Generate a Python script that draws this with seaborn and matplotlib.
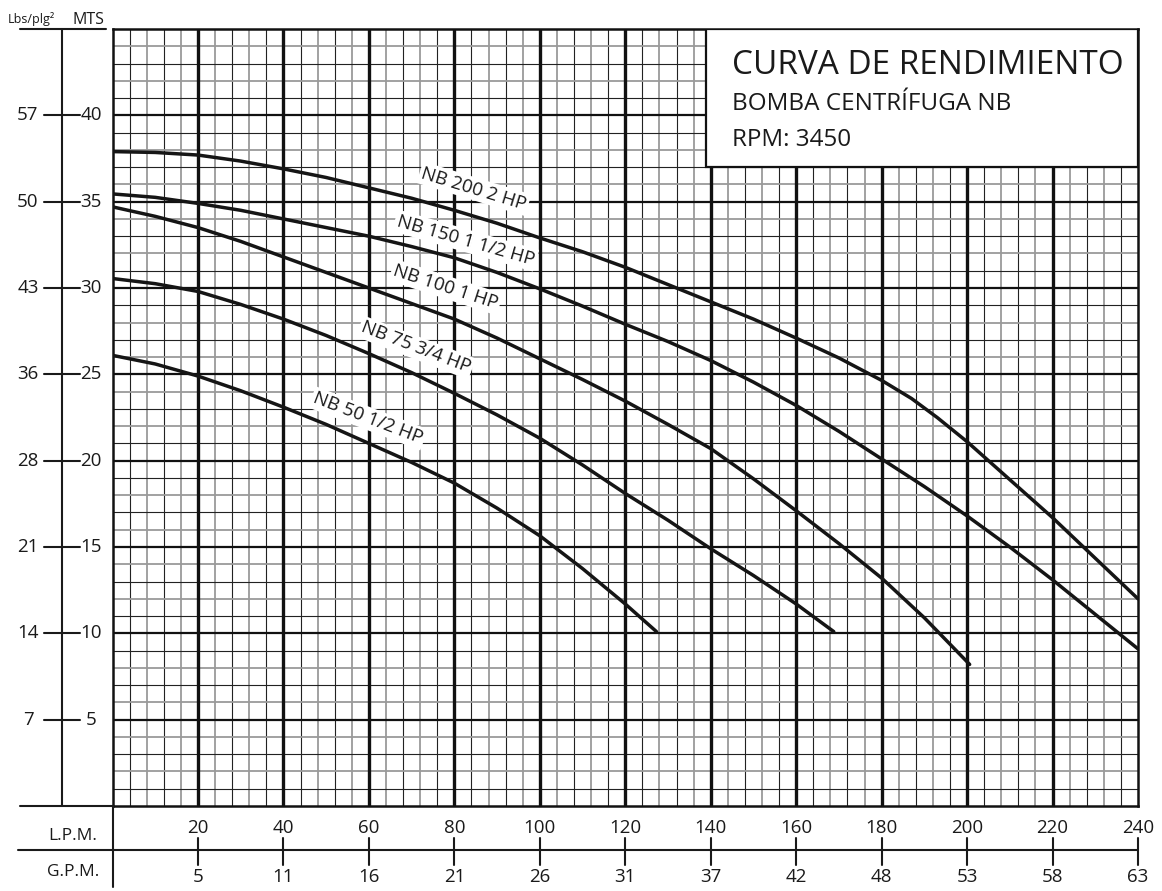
import pandas as pd
import seaborn as sns
import matplotlib.pyplot as plt
from matplotlib.lines import Line2D
from matplotlib.patches import Rectangle

# curves: flow (L.P.M.) vs head (MTS)
nb200_lpm = [0, 10, 20, 30, 40, 50, 60, 70, 80, 90, 100, 110, 120, 130, 140, 150, 160, 170, 180, 187, 193, 200, 210, 220, 230, 240]
nb200_mts = [37.9, 37.85, 37.7, 37.35, 36.9, 36.4, 35.8, 35.2, 34.5, 33.75, 32.9, 32.1, 31.2, 30.2, 29.2, 28.2,
             27.1, 25.95, 24.65, 23.6, 22.5, 21.1, 18.9, 16.7, 14.35, 12.0]
nb150_lpm = [0, 10, 20, 30, 40, 50, 60, 70, 80, 90, 100, 110, 120, 130, 140, 150, 160, 170, 180, 190, 200, 210, 220, 230, 240]
nb150_mts = [35.45, 35.25, 34.9, 34.5, 34.0, 33.5, 33.0, 32.4, 31.75, 30.9, 29.95, 28.95, 27.9, 26.9, 25.8, 24.55,
             23.2, 21.7, 20.1, 18.5, 16.8, 15.0, 13.1, 11.1, 9.1]
nb100_lpm = [0, 10, 20, 30, 40, 50, 60, 70, 80, 90, 100, 110, 120, 130, 140, 150, 160, 170, 180, 190, 200.6]
nb100_mts = [34.7, 34.15, 33.5, 32.7, 31.8, 30.9, 30.0, 29.1, 28.2, 27.1, 25.9, 24.7, 23.45, 22.1, 20.7, 18.95,
             17.1, 15.2, 13.2, 10.9, 8.2]
nb75_lpm = [0, 10, 20, 30, 40, 50, 60, 70, 80, 90, 100, 110, 120, 130, 140, 150, 160, 168.8]
nb75_mts = [30.55, 30.25, 29.8, 29.05, 28.2, 27.25, 26.2, 25.1, 23.9, 22.65, 21.3, 19.75, 18.1, 16.55, 14.9, 13.35, 11.7, 10.1]
nb50_lpm = [0, 10, 20, 30, 40, 50, 60, 70, 80, 90, 100, 110, 120, 127.3]
nb50_mts = [26.1, 25.6, 24.9, 24.05, 23.1, 22.1, 21.0, 19.9, 18.7, 17.25, 15.65, 13.75, 11.7, 10.1]

curve_names = ['NB 200 2 HP', 'NB 150 1 1/2 HP', 'NB 100 1 HP', 'NB 75 3/4 HP', 'NB 50 1/2 HP']
# label placement (lpm, mts, angle)
label_pos = [(84.6, 35.75, -17), (82.6, 32.75, -16), (78.0, 30.05, -18), (71.0, 26.55, -21), (59.8, 22.45, -21)]

lpm_ticks = [20, 40, 60, 80, 100, 120, 140, 160, 180, 200, 220, 240]
gpm_ticks = [5, 11, 16, 21, 26, 31, 37, 42, 48, 53, 58, 63]
mts_ticks = [5, 10, 15, 20, 25, 30, 35, 40]
psi_ticks = [7, 14, 21, 28, 36, 43, 50, 57]

frames = []
for name, xs, ys in zip(curve_names,
                        [nb200_lpm, nb150_lpm, nb100_lpm, nb75_lpm, nb50_lpm],
                        [nb200_mts, nb150_mts, nb100_mts, nb75_mts, nb50_mts]):
    frames.append(pd.DataFrame({'lpm': xs, 'mts': ys, 'bomba': name}))
data = pd.concat(frames)

sns.set_theme(style='white')
plt.rcParams['font.family'] = ['Open Sans', 'DejaVu Sans']

W, H = 1162, 891
fig = plt.figure(figsize=(W / 100, H / 100), dpi=100)
L, R, T, B = 112.5, 1138, 29, 806
ax = fig.add_axes([L / W, 1 - B / H, (R - L) / W, (B - T) / H])

# grid paper
dark = '#222222'
gray = '#9a9a9a'
for v in range(4, 240, 4):
    if v % 20 == 0:
        ax.axvline(v, color='#111111', lw=2.4, zorder=1)
    else:
        ax.axvline(v, color=dark if (v // 4) % 2 else gray, lw=0.8 if (v // 4) % 2 else 1.3, zorder=0.5)
for v in range(1, 45):
    if v % 5 == 0:
        ax.axhline(v, color='#111111', lw=1.6, zorder=1)
    else:
        ax.axhline(v, color=dark if v % 2 else gray, lw=0.8 if v % 2 else 1.3, zorder=0.5)

sns.lineplot(data=data, x='lpm', y='mts', hue='bomba', palette=['#151515'] * 5,
             estimator=None, sort=False, legend=False, lw=2.5, ax=ax, zorder=3,
             solid_joinstyle='round')

for name, (lx, ly, ang) in zip(curve_names, label_pos):
    ax.text(lx, ly, name, rotation=ang, rotation_mode='anchor', ha='center', va='center',
            fontsize=13.5, color='#1a1a1a', zorder=4,
            bbox=dict(boxstyle='square,pad=0.12', fc='white', ec='none'))

ax.set_xlim(0, 240)
ax.set_ylim(0, 45)
ax.set_xticks([])
ax.set_yticks([])
ax.set_xlabel('')
ax.set_ylabel('')
for s in ax.spines.values():
    s.set_color('#111111')
    s.set_linewidth(1.8)

# title box
ax.add_patch(Rectangle((139, 37), 101, 8, fc='white', ec='#111111', lw=1.6, zorder=5))
ax.text(144.9, 42.4, 'CURVA DE RENDIMIENTO', fontsize=24, color='#1a1a1a', va='baseline', zorder=6)
ax.text(144.9, 40.3, 'BOMBA CENTRÍFUGA NB', fontsize=17.5, color='#1a1a1a', va='baseline', zorder=6)
ax.text(144.9, 38.2, 'RPM: 3450', fontsize=17.5, color='#1a1a1a', va='baseline', zorder=6)


def fx(px):
    return px / W


def fy(py):
    return 1 - py / H


def fig_line(x0, y0, x1, y1, lw=1.5):
    fig.add_artist(Line2D([fx(x0), fx(x1)], [fy(y0), fy(y1)], color='#1a1a1a', lw=lw))


# left pressure / head scale
fig_line(62, T, 62, B)
fig_line(20, T, 106, T)
fig_line(20, B, L, B)
fig.text(fx(8), fy(19), 'Lbs/plg²', fontsize=9, ha='left', va='center', color='#1a1a1a')
fig.text(fx(88), fy(20), 'MTS', fontsize=11.5, ha='center', va='center', color='#1a1a1a')
ytr = ax.get_yaxis_transform()
ax_x = lambda px: (px - L) / (R - L)
for m, p in zip(mts_ticks, psi_ticks):
    ax.add_line(Line2D([ax_x(44), ax_x(80)], [m, m], transform=ytr, color='#1a1a1a', lw=1.5, clip_on=False))
    ax.text(ax_x(28), m, str(p), transform=ytr, ha='center', va='center', fontsize=13.5, color='#1a1a1a')
    ax.text(ax_x(91), m, str(m), transform=ytr, ha='center', va='center', fontsize=13.5, color='#1a1a1a')

# bottom flow scales
fig_line(18, 850, R, 850)
fig_line(L, B, L, 887)
fig.text(fx(97), fy(836), 'L.P.M.', fontsize=12.5, ha='right', va='center', color='#1a1a1a')
fig.text(fx(99), fy(872), 'G.P.M.', fontsize=12.5, ha='right', va='center', color='#1a1a1a')
xtr = ax.get_xaxis_transform()
ax_y = lambda py: (B - py) / (B - T)
for q, g in zip(lpm_ticks, gpm_ticks):
    ax.add_line(Line2D([q, q], [ax_y(838), ax_y(865)], transform=xtr, color='#1a1a1a', lw=1.5, clip_on=False))
    ax.text(q, ax_y(828), str(q), transform=xtr, ha='center', va='center', fontsize=13.5, color='#1a1a1a')
    ax.text(q, ax_y(877), str(g), transform=xtr, ha='center', va='center', fontsize=13.5, color='#1a1a1a')

fig.savefig('out.png', dpi=100, facecolor='white')
